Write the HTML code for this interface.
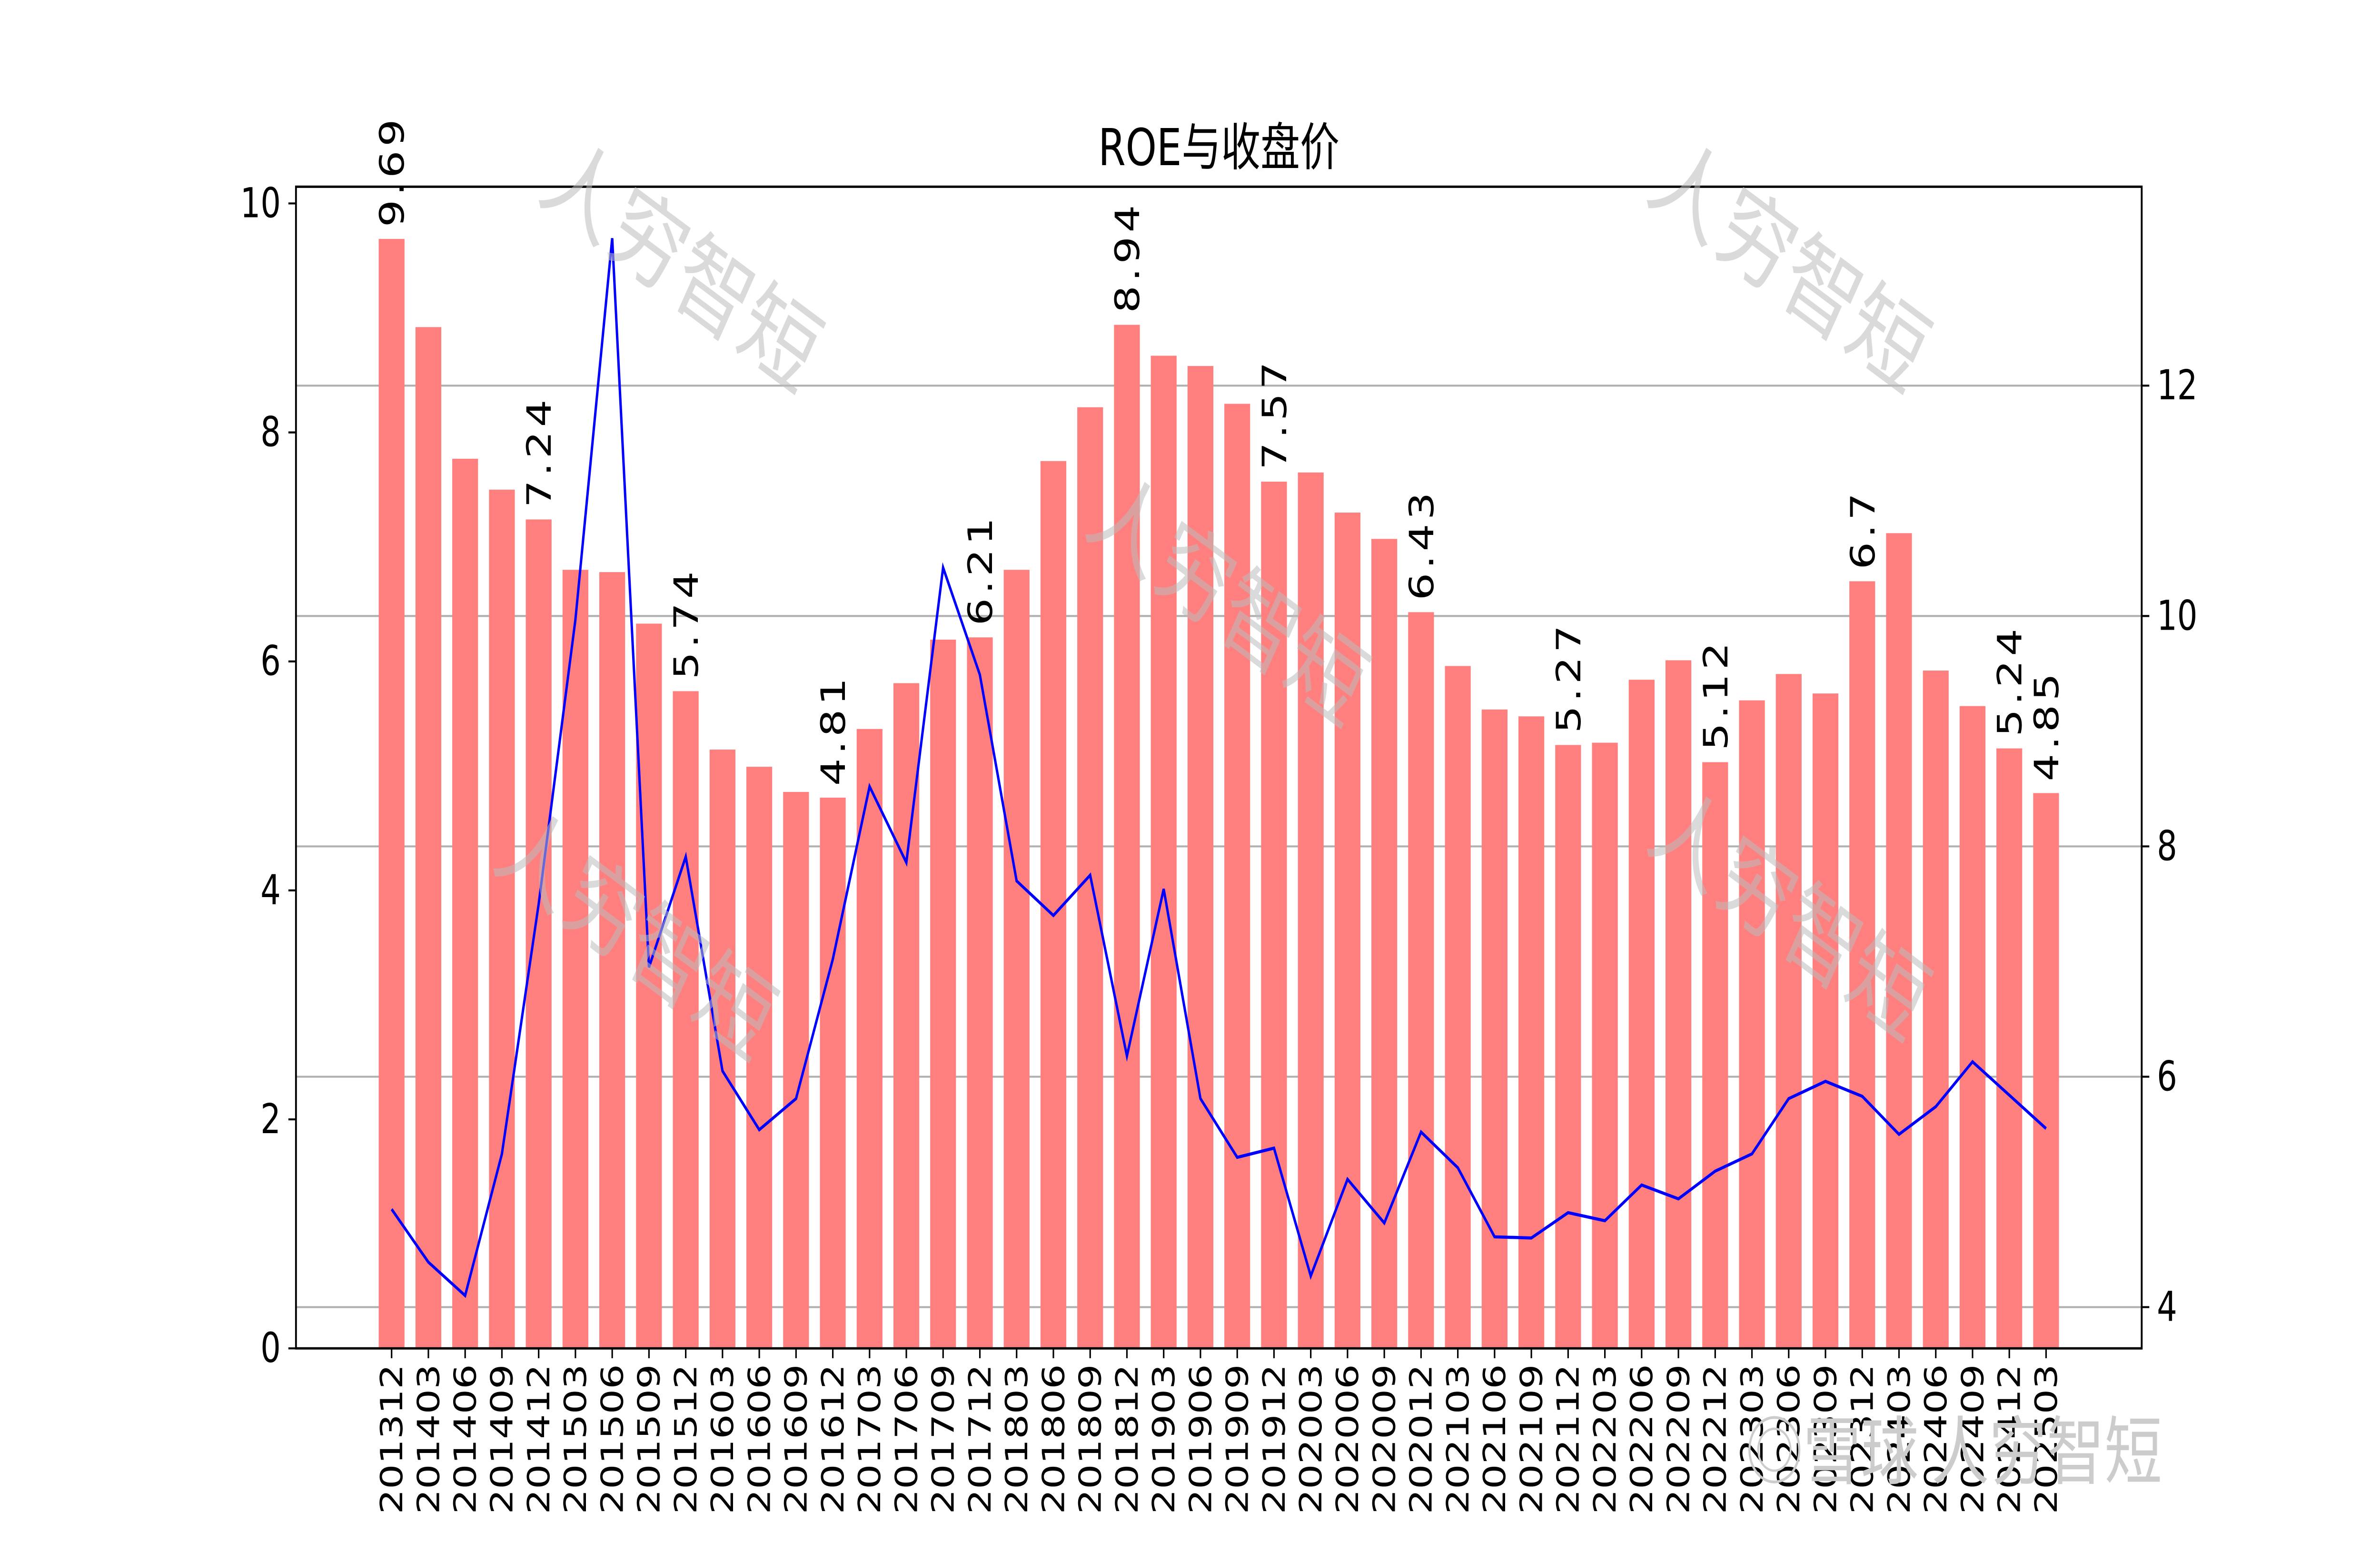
<!DOCTYPE html>
<html><head><meta charset="utf-8"><style>
html,body{margin:0;padding:0;background:#fff;width:100%;height:100%;overflow:hidden;}
svg{display:block;width:100vw;height:100vh;font-family:"DejaVu Sans","Liberation Sans","Noto Sans CJK SC",sans-serif;}
</style></head><body>
<svg id="chart" viewBox="0 0 1568 784" preserveAspectRatio="none" xmlns="http://www.w3.org/2000/svg">
<rect width="1568" height="784" fill="#fff"/>
<g id="grid"></g>
<g id="bars"></g>
<g id="line"></g>
<g id="labels"></g>
<g id="axes"></g>
<g id="wm" fill="#bbb" fill-opacity="0.55" font-size="50" font-family="'Noto Sans CJK SC',sans-serif"></g>
<text x="803" y="84" text-anchor="middle" font-size="26" font-family="'DejaVu Sans','Noto Sans CJK SC',sans-serif">ROE与收盘价</text>
<text x="1150" y="752" font-size="38" fill="#ccc" font-family="'Noto Sans CJK SC',sans-serif">◎雪球 人穷智短</text>
</svg>
<script>
const categories=["201312","201403","201406","201409","201412","201503","201506","201509","201512","201603","201606","201609","201612","201703","201706","201709","201712","201803","201806","201809","201812","201903","201906","201909","201912","202003","202006","202009","202012","202103","202106","202109","202112","202203","202206","202209","202212","202303","202306","202309","202312","202403","202406","202409","202412","202503"];
const roeValues=[9.69,8.92,7.77,7.50,7.24,6.80,6.78,6.33,5.74,5.23,5.08,4.86,4.81,5.41,5.81,6.19,6.21,6.80,7.75,8.22,8.94,8.67,8.58,8.25,7.57,7.65,7.30,7.07,6.43,5.96,5.58,5.52,5.27,5.29,5.84,6.01,5.12,5.66,5.89,5.72,6.70,7.12,5.92,5.61,5.24,4.85];
const priceValues=[4.85,4.39,4.10,5.33,7.50,9.97,13.28,6.95,7.91,6.05,5.54,5.81,7.02,8.52,7.86,10.42,9.49,7.70,7.40,7.75,6.18,7.63,5.81,5.30,5.38,4.27,5.11,4.73,5.52,5.21,4.61,4.60,4.82,4.75,5.06,4.94,5.18,5.33,5.81,5.96,5.83,5.50,5.74,6.13,5.84,5.55];
const leftTicks=[0,2,4,6,8,10];
const rightTicks=[4,6,8,10,12];
const labeledIdx=[0,4,8,12,16,20,24,28,32,36,40,44,45];

const NS="http://www.w3.org/2000/svg";
const L=195,R=1411,T=95,B=686;
const xAt=i=>258+i*(1348-258)/(categories.length-1);
const yL=v=>686-v*58.25;
const yR=v=>665-(v-4)*58.6;
function mk(tag,attrs,parent,txt){const e=document.createElementNS(NS,tag);for(const k in attrs)e.setAttribute(k,attrs[k]);if(txt!==undefined)e.textContent=txt;document.getElementById(parent).appendChild(e);return e;}

rightTicks.forEach(v=>{const g=mk('line',{x1:L,x2:R,y1:yR(v),y2:yR(v),stroke:'#b0b0b0','stroke-width':1},'grid');

});

const bw=17;
roeValues.forEach((v,i)=>{const r=mk('rect',{x:xAt(i)-bw/2,y:yL(v),width:bw,height:yL(0)-yL(v),fill:'#ff7f7f'},'bars');

});

const pts=priceValues.map((v,i)=>xAt(i)+','+yR(v)).join(' ');
const pl=mk('polyline',{points:pts,fill:'none',stroke:'#0000ff','stroke-width':1.6},'line');



labeledIdx.forEach(i=>{const x=xAt(i)+8,y=yL(roeValues[i])-6;
const t=mk('text',{x:x,y:y,'font-size':22,'letter-spacing':2,transform:`rotate(-90 ${x} ${y})`},'labels',String(roeValues[i]).replace(/(\.\d*?)0+$/,'$1').replace(/\.$/,''));

});

const fr=mk('rect',{x:L,y:T,width:R-L,height:B-T,fill:'none',stroke:'#000','stroke-width':1.2},'axes');


leftTicks.forEach(v=>{mk('line',{x1:L-5,x2:L,y1:yL(v),y2:yL(v),stroke:'#000'},'axes');
const t=mk('text',{x:L-10,y:yL(v)+7,'text-anchor':'end','font-size':21},'axes',v);

});
rightTicks.forEach(v=>{mk('line',{x1:R,x2:R+5,y1:yR(v),y2:yR(v),stroke:'#000'},'axes');
const t=mk('text',{x:R+10,y:yR(v)+7,'font-size':21},'axes',v);

});
categories.forEach((c,i)=>{const x=xAt(i);mk('line',{x1:x,x2:x,y1:B,y2:B+5,stroke:'#000'},'axes');
const tx=x+7,ty=B+8;
const t=mk('text',{x:tx,y:ty,'text-anchor':'end','font-size':20,transform:`rotate(-90 ${tx} ${ty})`},'axes',c);

});

[[440,150],[800,320],[410,490],[1170,150],[1170,480]].forEach(p=>{
const t=mk('text',{x:p[0],y:p[1],'text-anchor':'middle',transform:`rotate(30 ${p[0]} ${p[1]})`},'wm','人穷智短');

});
</script>
</body></html>
